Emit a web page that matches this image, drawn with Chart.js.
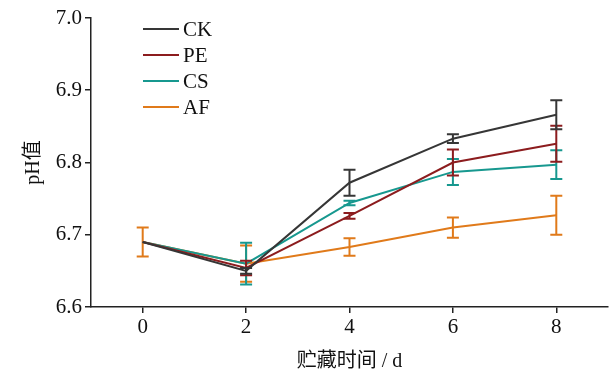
<!DOCTYPE html>
<html lang="zh">
<head>
    <meta charset="UTF-8">
    <script src="https://cdn.jsdelivr.net/npm/chart.js"></script>
    <title>pH值</title>
    <style>
        html, body { margin: 0; padding: 0; background: #fff; }
        #wrap { width: 610px; height: 374px; }
    </style>
</head>
<body>
    <div id="wrap"><canvas id="chart1" width="610" height="374"></canvas></div>

    <script>
        // storage days (x) and axis ticks
        const days = [0, 2, 4, 6, 8];
        const xTicks = [0, 2, 4, 6, 8];
        const yTicks = [6.6, 6.7, 6.8, 6.9, 7.0];

        // series names and colours
        const seriesNames = ['CK', 'PE', 'CS', 'AF'];
        const seriesColors = ['#363636', '#8c1c1e', '#17988f', '#e07a1a'];

        // pH means
        const ckValues = [6.690, 6.650, 6.772, 6.833, 6.866];
        const peValues = [6.690, 6.654, 6.726, 6.800, 6.826];
        const csValues = [6.690, 6.660, 6.744, 6.787, 6.797];
        const afValues = [6.690, 6.660, 6.683, 6.710, 6.727];

        // error bars (+/-), 0 = not visible
        const ckErrors = [0, 0.004, 0.018, 0.006, 0.020];
        const peErrors = [0, 0.010, 0.004, 0.018, 0.025];
        const csErrors = [0, 0.029, 0.003, 0.018, 0.020];
        const afErrors = [0.020, 0.025, 0.012, 0.014, 0.027];

        const allValues = [ckValues, peValues, csValues, afValues];
        const allErrors = [ckErrors, peErrors, csErrors, afErrors];

        const serif = "'Liberation Serif', 'Noto Sans CJK SC', serif";

        const datasets = seriesNames.map((name, i) => ({
            label: name,
            data: days.map((d, j) => ({ x: d, y: allValues[i][j] })),
            errors: allErrors[i],
            borderColor: seriesColors[i],
            backgroundColor: seriesColors[i],
            borderWidth: 2,
            pointRadius: 0,
            fill: false,
            tension: 0,
        }));

        // draws error bars for every dataset with the chart's own scales
        const errorBars = {
            id: 'errorBars',
            afterDatasetDraw(chart, args) {
                const ds = chart.data.datasets[args.index];
                const xs = chart.scales.x, ys = chart.scales.y;
                const c = chart.ctx;
                c.save();
                c.strokeStyle = ds.borderColor;
                c.lineWidth = 2;
                ds.data.forEach((p, j) => {
                    const e = ds.errors[j];
                    if (!e) return;
                    const px = xs.getPixelForValue(p.x);
                    const top = ys.getPixelForValue(p.y + e);
                    const bot = ys.getPixelForValue(p.y - e);
                    c.beginPath();
                    c.moveTo(px, top); c.lineTo(px, bot);
                    c.moveTo(px - 6, top); c.lineTo(px + 6, top);
                    c.moveTo(px - 6, bot); c.lineTo(px + 6, bot);
                    c.stroke();
                });
                c.restore();
            }
        };

        // legend in the top-left of the plot area
        const innerLegend = {
            id: 'innerLegend',
            afterDraw(chart) {
                const c = chart.ctx;
                const area = chart.chartArea;
                c.save();
                c.font = '21px ' + serif;
                c.textBaseline = 'middle';
                chart.data.datasets.forEach((ds, i) => {
                    const y = area.top + 11 + i * 26;
                    const x0 = area.left + 52;
                    c.strokeStyle = ds.borderColor;
                    c.lineWidth = 2;
                    c.beginPath();
                    c.moveTo(x0, y); c.lineTo(x0 + 36, y);
                    c.stroke();
                    c.fillStyle = '#111';
                    c.fillText(ds.label, x0 + 40, y + 1);
                });
                c.restore();
            }
        };

        const ctx1 = document.getElementById('chart1').getContext('2d');
        const chart = new Chart(ctx1, {
            type: 'line',
            data: { datasets: datasets },
            plugins: [errorBars, innerLegend],
            options: {
                responsive: false,
                animation: false,
                layout: { padding: { top: 18, right: 2, left: 0, bottom: 0 } },
                plugins: {
                    legend: { display: false },
                    tooltip: { enabled: false },
                },
                scales: {
                    x: {
                        type: 'linear',
                        min: -1,
                        max: 9,
                        afterBuildTicks: (s) => { s.ticks = xTicks.map(v => ({ value: v })); },
                        afterFit: (s) => { s.height = 67; },
                        border: { display: true, color: '#222', width: 1.5 },
                        grid: { drawOnChartArea: false, drawTicks: true, tickLength: 6, color: '#222', lineWidth: 1.5 },
                        ticks: { color: '#111', font: { family: serif, size: 21 }, padding: 2, maxRotation: 0 },
                        title: {
                            display: true,
                            text: '贮藏时间 / d',
                            color: '#111',
                            font: { family: serif, size: 20 },
                            padding: { top: 0, bottom: 0 },
                        },
                    },
                    y: {
                        min: 6.6,
                        max: 7.0,
                        afterBuildTicks: (s) => { s.ticks = yTicks.map(v => ({ value: v })); },
                        afterFit: (s) => { s.width = 91; },
                        border: { display: true, color: '#222', width: 1.5 },
                        grid: { drawOnChartArea: false, drawTicks: true, tickLength: 6, color: '#222', lineWidth: 1.5 },
                        ticks: {
                            color: '#111',
                            font: { family: serif, size: 21 },
                            padding: 3,
                            callback: (v) => Number(v).toFixed(1),
                        },
                        title: {
                            display: true,
                            text: 'pH值',
                            color: '#111',
                            font: { family: serif, size: 20 },
                            padding: { top: 22, bottom: 0 },
                        },
                    },
                },
            },
        });
    </script>
</body>
</html>
